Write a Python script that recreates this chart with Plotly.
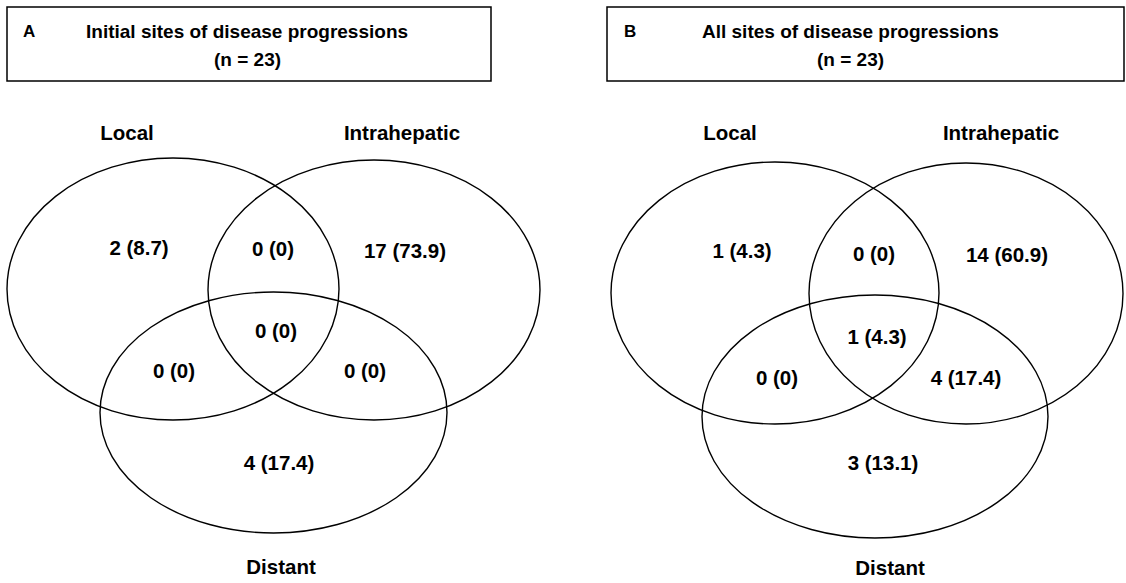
import plotly.graph_objects as go

# ---- data ----
set_names = ["Local", "Intrahepatic", "Distant"]
regions = ["Local only", "Local+Intrahepatic", "Intrahepatic only", "All three",
           "Local+Distant", "Intrahepatic+Distant", "Distant only"]
counts_A = [2, 0, 17, 0, 0, 0, 4]
pct_A = [8.7, 0, 73.9, 0, 0, 0, 17.4]
counts_B = [1, 0, 14, 1, 0, 4, 3]
pct_B = [4.3, 0, 60.9, 4.3, 0, 17.4, 13.1]
panel_letters = ["A", "B"]
panel_titles = ["Initial sites of disease progressions", "All sites of disease progressions"]
n_total = [23, 23]

# ---- layout (pixel coordinates) ----
W, H = 1126, 583
FONT = "Liberation Sans, Arial"
panels = [
    dict(box=(7, 7, 491, 81), letter_x=29, title_x=247,
         ellipses=[(7, 158, 339, 420), (208, 160, 540, 420), (100, 292, 447, 533)],
         set_pos=[(127, 135), (402, 135), (281, 569)],
         reg_pos=[(139, 250), (273, 251), (405, 253), (276, 333), (174, 373), (365, 373), (279, 465)]),
    dict(box=(607, 7, 1124, 81), letter_x=630, title_x=850,
         ellipses=[(611, 162, 939, 424), (809, 163, 1123, 424), (702, 295, 1048, 538)],
         set_pos=[(730, 135), (1001, 135), (890, 570)],
         reg_pos=[(742, 253), (874, 256), (1007, 257), (877, 339), (777, 380), (966, 380), (883, 465)]),
]
data = [(counts_A, pct_A), (counts_B, pct_B)]

fig = go.Figure()
shapes = []
annotations = []
for i, p in enumerate(panels):
    x0, y0, x1, y1 = p["box"]
    shapes.append(dict(type="rect", xref="x", yref="y", x0=x0, y0=y0, x1=x1, y1=y1,
                       line=dict(color="black", width=1.5)))
    for (ex0, ey0, ex1, ey1) in p["ellipses"]:
        shapes.append(dict(type="circle", xref="x", yref="y", x0=ex0, y0=ey0, x1=ex1, y1=ey1,
                           line=dict(color="black", width=1.4)))
    annotations.append(dict(x=p["letter_x"], y=31, xref="x", yref="y", text="<b>%s</b>" % panel_letters[i],
                            showarrow=False, font=dict(family=FONT, size=17, color="black")))
    annotations.append(dict(x=p["title_x"], y=31, xref="x", yref="y",
                            text="<b>%s</b>" % panel_titles[i],
                            showarrow=False, font=dict(family=FONT, size=19, color="black")))
    annotations.append(dict(x=p["title_x"], y=59, xref="x", yref="y",
                            text="<b>(n = %d)</b>" % n_total[i],
                            showarrow=False, font=dict(family=FONT, size=19, color="black")))
    counts, pcts = data[i]
    labels = ["<b>%d (%s)</b>" % (c, format(pc, "g")) for c, pc in zip(counts, pcts)]
    fig.add_trace(go.Scatter(
        x=[q[0] for q in p["reg_pos"]], y=[q[1] for q in p["reg_pos"]],
        mode="text", text=labels, textposition="middle center",
        textfont=dict(family=FONT, size=20.5, color="black"),
        hoverinfo="skip", showlegend=False))
    fig.add_trace(go.Scatter(
        x=[q[0] for q in p["set_pos"]], y=[q[1] for q in p["set_pos"]],
        mode="text", text=["<b>%s</b>" % s for s in set_names], textposition="middle center",
        textfont=dict(family=FONT, size=20.5, color="black"),
        hoverinfo="skip", showlegend=False, cliponaxis=False))

fig.update_layout(
    width=W, height=H, margin=dict(l=0, r=0, t=0, b=0),
    paper_bgcolor="white", plot_bgcolor="white",
    shapes=shapes, annotations=annotations,
    xaxis=dict(range=[0, W], visible=False, fixedrange=True),
    yaxis=dict(range=[H, 0], visible=False, fixedrange=True),
)
fig.write_html("out.html", config={"displayModeBar": False},
               post_script="document.body.style.margin='0px';document.body.style.overflow='hidden';")
